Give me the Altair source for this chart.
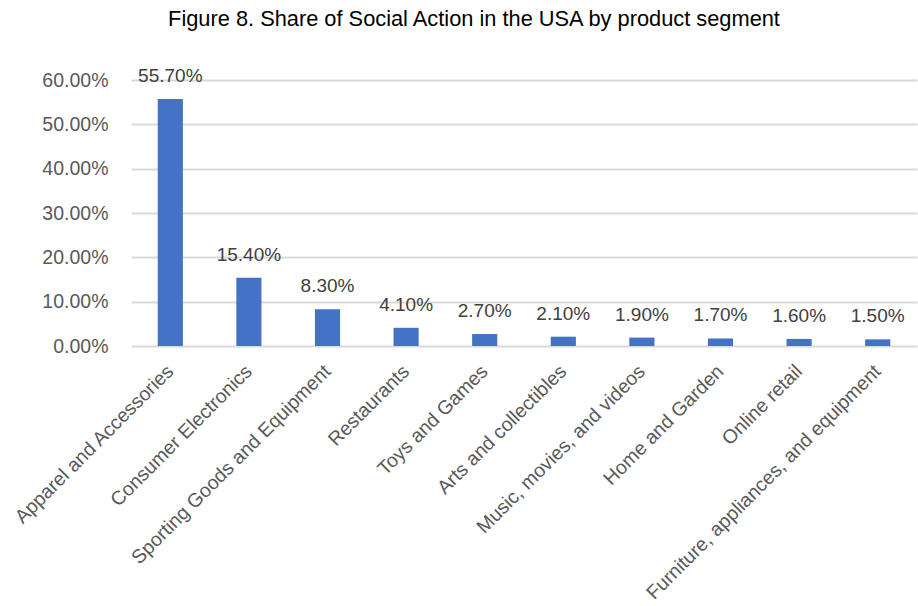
import altair as alt
import pandas as pd

categories = [
    "Apparel and Accessories",
    "Consumer Electronics",
    "Sporting Goods and Equipment",
    "Restaurants",
    "Toys and Games",
    "Arts and collectibles",
    "Music, movies, and videos",
    "Home and Garden",
    "Online retail",
    "Furniture, appliances, and equipment",
]
shares = [0.557, 0.154, 0.083, 0.041, 0.027, 0.021, 0.019, 0.017, 0.016, 0.015]

df = pd.DataFrame({"segment": categories, "share": shares})

FONT = "Liberation Sans Narrow, Arial Narrow, Liberation Sans, Arial, sans-serif"

x = alt.X(
    "segment:N",
    sort=categories,
    title=None,
    scale=alt.Scale(paddingInner=0.68, paddingOuter=0.34),
    axis=alt.Axis(
        labelAngle=-45,
        labelAlign="right",
        labelBaseline="middle",
        labelFont=FONT,
        labelFontSize=19.5,
        labelColor="#595959",
        labelPadding=22,
        labelLimit=400,
        labelOverlap=False,
        ticks=False,
        domain=False,
        grid=False,
    ),
)
y = alt.Y(
    "share:Q",
    title=None,
    scale=alt.Scale(domain=[0, 0.6], nice=False),
    axis=alt.Axis(
        values=[0, 0.1, 0.2, 0.3, 0.4, 0.5, 0.6],
        format=".2%",
        labelFont=FONT,
        labelFontSize=19.5,
        labelColor="#595959",
        labelPadding=23,
        ticks=False,
        domain=False,
        grid=True,
        gridColor="#D9D9D9",
        gridWidth=2,
    ),
)

bars = alt.Chart(df).mark_bar(color="#4472C4").encode(x=x, y=y)
labels = alt.Chart(df).mark_text(
    font=FONT, fontSize=19, color="#404040", baseline="alphabetic", dy=-17
).encode(x=x, y=y, text=alt.Text("share:Q", format=".2%"))

chart = (
    alt.layer(bars, labels)
    .properties(
        width=786,
        height=266,
        padding={"left": 131, "top": 80, "right": 1, "bottom": 260},
        autosize=alt.AutoSizeParams(type="none"),
        title=alt.TitleParams(
            "Figure 8. Share of Social Action in the USA by product segment",
            font=FONT,
            fontSize=21.8,
            fontWeight="normal",
            color="#000000",
            anchor="middle",
            frame="group",
            dx=-50,
            offset=36,
        ),
    )
    .configure_view(stroke=None)
)

chart.save("out.html", embed_options={"renderer": "svg", "actions": False})
